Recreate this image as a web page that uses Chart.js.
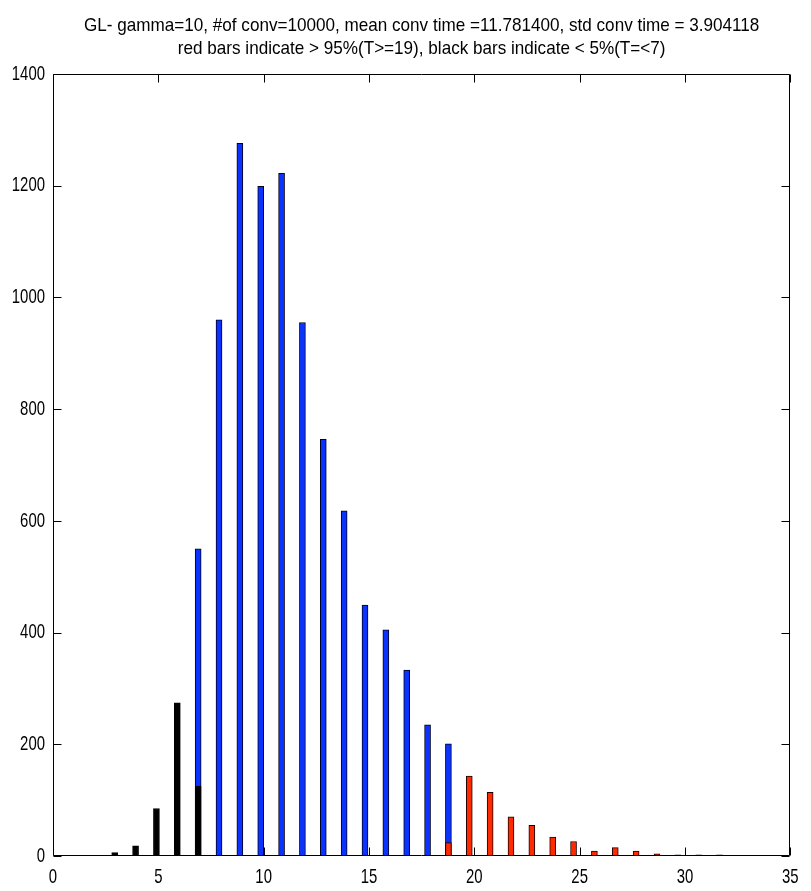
<!DOCTYPE html>
<html>
<head>
<meta charset="utf-8">
<script src="https://cdn.jsdelivr.net/npm/chart.js@4/dist/chart.umd.min.js"></script>
<style>
html,body{margin:0;padding:0;background:#fff;}
#wrap{width:811px;height:891px;position:relative;}
</style>
</head>
<body>
<div id="wrap"><canvas id="c" width="811" height="891"></canvas></div>
<script>
const titleLines = [
  "GL- gamma=10, #of conv=10000, mean conv time =11.781400, std conv time = 3.904118",
  "red bars indicate > 95%(T>=19), black bars indicate < 5%(T=<7)"
];
const blueX = [6.89, 7.88, 8.87, 9.86, 10.85, 11.84, 12.83, 13.82, 14.81, 15.80, 16.79, 17.78, 18.77];
const blueY = [550, 960, 1276, 1199, 1222, 955, 746, 618, 449, 405, 333, 235, 201];
const blackX = [2.93, 3.92, 4.91, 5.90, 6.89];
const blackY = [6, 18, 85, 274, 125];
const redX = [18.77, 19.76, 20.75, 21.74, 22.73, 23.72, 24.71, 25.70, 26.69, 27.68, 28.67, 29.66, 30.65, 31.64];
const redY = [24, 143, 114, 70, 55, 34, 26, 9, 15, 9, 4, 2, 2, 2];
const xMin = 0, xMax = 35, xStep = 5;
const yMin = 0, yMax = 1400, yStep = 200;

const FONT = "'Liberation Sans', Arial, sans-serif";
const TITLE_SIZE = 19, TICK_SIZE = 21;
const pts = (xs, ys) => xs.map((x, i) => ({x: x, y: ys[i]}));

const canvas = document.getElementById('c');
const ctx2d = canvas.getContext('2d');
// condensed text look (MATLAB export is horizontally squeezed)
const origFill = ctx2d.fillText.bind(ctx2d);
ctx2d.fillText = function (text, x, y) {
  const sx = this.font.indexOf(TITLE_SIZE + 'px') >= 0 ? 0.90 : 0.71;
  this.save();
  this.translate(x, y);
  this.scale(sx, 1);
  origFill(text, 0, 0);
  this.restore();
};

const frameTicks = {
  id: 'frameTicks',
  afterDraw(chart) {
    const {ctx, chartArea: a} = chart;
    const xs = chart.scales.x, ys = chart.scales.y;
    const L = 8;
    ctx.save();
    ctx.strokeStyle = '#000';
    ctx.lineWidth = 1;
    ctx.beginPath();
    const l = Math.round(a.left) + 0.5, r = Math.round(a.right) - 0.5;
    const t = Math.round(a.top) + 0.5, b = Math.round(a.bottom) - 0.5;
    ctx.rect(l, t, r - l, b - t);
    xs.ticks.forEach(tk => {
      const p = Math.round(xs.getPixelForValue(tk.value)) + 0.5;
      ctx.moveTo(p, b); ctx.lineTo(p, b - L);
      ctx.moveTo(p, t); ctx.lineTo(p, t + L);
    });
    ys.ticks.forEach(tk => {
      const p = Math.round(ys.getPixelForValue(tk.value)) + 0.5;
      ctx.moveTo(l, p); ctx.lineTo(l + L, p);
      ctx.moveTo(r, p); ctx.lineTo(r - L, p);
    });
    ctx.stroke();
    ctx.restore();
  }
};

new Chart(canvas, {
  type: 'bar',
  data: {
    datasets: [
      {label: 'black', data: pts(blackX, blackY), backgroundColor: '#000000', borderColor: '#000000',
       borderWidth: 1, barThickness: 6, grouped: false, order: 0},
      {label: 'red', data: pts(redX, redY), backgroundColor: '#ff2a00', borderColor: '#1a0000',
       borderWidth: 1, barThickness: 6, grouped: false, order: 1},
      {label: 'blue', data: pts(blueX, blueY), backgroundColor: '#0a33ff', borderColor: '#00001a',
       borderWidth: 1, barThickness: 6, grouped: false, order: 2}
    ]
  },
  options: {
    responsive: false,
    animation: false,
    events: [],
    layout: {padding: {left: 0, right: 14, top: 0, bottom: 0}},
    plugins: {
      legend: {display: false},
      tooltip: {enabled: false},
      title: {
        display: true,
        fullSize: false,
        text: titleLines,
        color: '#000',
        font: {family: FONT, size: TITLE_SIZE, weight: 'normal', lineHeight: 1.23},
        padding: {top: 14, bottom: 13.2}
      }
    },
    scales: {
      x: {
        type: 'linear', min: xMin, max: xMax, offset: false,
        grid: {display: false, drawTicks: false},
        border: {display: false},
        ticks: {stepSize: xStep, color: '#000', font: {family: FONT, size: TICK_SIZE}, padding: 9, maxRotation: 0,
                callback: v => String(v)},
        afterFit(s) { s.height = 35; }
      },
      y: {
        min: yMin, max: yMax,
        grid: {display: false, drawTicks: false},
        border: {display: false},
        ticks: {stepSize: yStep, color: '#000', font: {family: FONT, size: TICK_SIZE}, padding: 8,
                callback: v => String(v)},
        afterFit(s) { s.width = 53; }
      }
    }
  },
  plugins: [frameTicks]
});
</script>
</body>
</html>
